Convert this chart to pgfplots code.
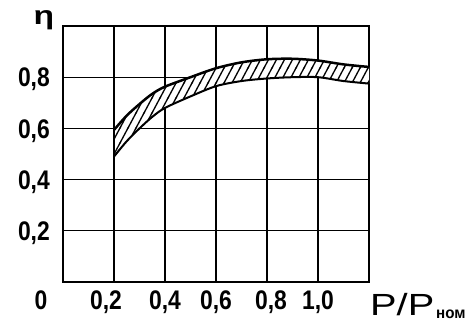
\documentclass[border=0pt]{standalone}
\usepackage{fontspec}
\setmainfont{Liberation Sans}
\newfontfamily\tickfont{Liberation Sans}[FakeStretch=0.85]
\newfontfamily\labfont{Liberation Sans}[FakeStretch=1.3]
\newfontfamily\subfont{Liberation Sans}[FakeStretch=0.95]
\newfontfamily\etafont{Liberation Sans}[FakeStretch=1.3]
\usepackage{pgfplots}
\pgfplotsset{compat=1.18}
\usetikzlibrary{patterns}
\pgfdeclarepatternformonly{steephatch}{\pgfpoint{-1bp}{-1bp}}{\pgfpoint{9bp}{16bp}}{\pgfpoint{8bp}{15bp}}{
  \pgfsetlinewidth{1.3bp}
  \pgfpathmoveto{\pgfpoint{-0.5bp}{-0.9375bp}}
  \pgfpathlineto{\pgfpoint{8.5bp}{15.9375bp}}
  \pgfusepath{stroke}
}
\pgfplotstableread{
x y
0.2 0.594
0.25 0.65
0.3 0.695
0.35 0.735
0.4 0.763
0.5 0.80
0.6 0.835
0.7 0.858
0.8 0.87
0.9 0.872
1.0 0.865
1.1 0.85
1.2 0.84
1.2 0.775
1.1 0.785
1.0 0.80
0.9 0.80
0.8 0.795
0.7 0.785
0.6 0.765
0.5 0.725
0.4 0.68
0.35 0.645
0.3 0.60
0.25 0.55
0.2 0.49
}\band
\begin{document}
\begin{tikzpicture}
\begin{axis}[
  at={(63bp,41bp)}, anchor=south west,
  scale only axis, width=306bp, height=256bp,
  xmin=0, xmax=1.2, ymin=0, ymax=1.0,
  xtick={0.2,0.4,0.6,0.8,1.0},
  xticklabels={{\hspace*{-16bp}0,2},{0,4},{0,6},{\hspace*{8bp}0,8},{1,0}},
  ytick={0.2,0.4,0.6,0.8},
  yticklabels={{0,2},{0,4},{0,6},{0,8}},
  grid=major,
  major grid style={black, line width=1.3bp},
  axis line style={black, line width=1.3bp},
  major tick length=0pt,
  tick label style={font=\tickfont\bfseries\fontsize{27}{27}\selectfont, inner sep=0pt},
  xticklabel style={anchor=base, yshift=-27.7bp},
  yticklabel style={anchor=base east, xshift=-13bp, yshift=-9.7bp},
  clip=false,
]
% hatched band between the two curves
\addplot[draw=none, fill=white] table {\band} -- cycle;
\addplot[draw=none, pattern=steephatch, pattern color=black] table {\band} -- cycle;
\addplot[black, line width=2.5bp, smooth, tension=0.5] coordinates {
(0.2,0.594) (0.25,0.65) (0.3,0.695) (0.35,0.735) (0.4,0.763) (0.5,0.80)
(0.6,0.835) (0.7,0.858) (0.8,0.87) (0.9,0.872) (1.0,0.865) (1.1,0.85) (1.2,0.84)};
\addplot[black, line width=2bp, smooth, tension=0.5] coordinates {
(0.2,0.49) (0.25,0.55) (0.3,0.60) (0.35,0.645) (0.4,0.68) (0.5,0.725)
(0.6,0.765) (0.7,0.785) (0.8,0.795) (0.9,0.80) (1.0,0.80) (1.1,0.785) (1.2,0.775)};
\addplot[black, line width=1.5bp] coordinates {(0.2,0.49) (0.2,0.594)};
\node[font=\tickfont\bfseries\fontsize{27}{27}\selectfont, anchor=base, inner sep=0pt]
  at (rel axis cs:0,0) [xshift=-22bp, yshift=-27.7bp] {0};
\node[font=\etafont\bfseries\fontsize{26}{26}\selectfont, anchor=base, inner sep=0pt]
  at (rel axis cs:0,1) [xshift=-19bp, yshift=1bp] {η};
\node[font=\labfont\fontsize{30.7}{30.7}\selectfont, anchor=base west, inner sep=0pt]
  at (rel axis cs:1,0) [xshift=1bp, yshift=-33bp] {P/P};
\node[font=\subfont\bfseries\fontsize{16}{16}\selectfont, anchor=base west, inner sep=0pt]
  at (rel axis cs:1,0) [xshift=67bp, yshift=-36bp] {ном};
\end{axis}
\pgfresetboundingbox
\path (0,0) rectangle (467bp,323bp);
\end{tikzpicture}
\end{document}
